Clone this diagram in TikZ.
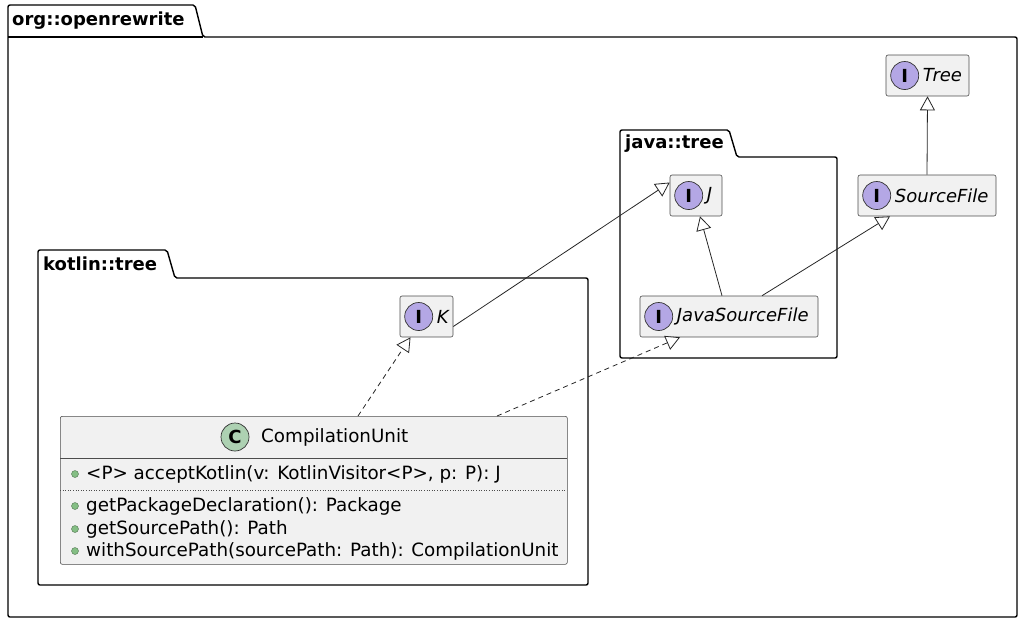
\documentclass[tikz,border=0pt]{standalone}
\usepackage{fontspec}
\setmainfont{DejaVu Sans}
\usetikzlibrary{arrows.meta}
\definecolor{cls}{HTML}{F1F1F1}
\definecolor{icol}{HTML}{B4A7E5}
\definecolor{ccol}{HTML}{ADD1B2}
\definecolor{bul}{HTML}{84BE84}
\begin{document}
\begin{tikzpicture}[x=1pt,y=-1pt,
  pkg/.style={draw=black,line width=1.4pt,rounded corners=2pt},
  box/.style={draw=black!70,fill=cls,rounded corners=2pt,line width=0.6pt},
  circ/.style={circle,draw=black!80,line width=0.7pt,minimum size=28pt,inner sep=0pt,font=\bfseries\fontsize{18}{18}\selectfont},
  lab/.style={font=\itshape\fontsize{18}{18}\selectfont,anchor=west,inner sep=0pt},
  txt/.style={font=\fontsize{18.3}{18}\selectfont,anchor=west,inner sep=0pt},
  ptab/.style={font=\bfseries\fontsize{18}{18}\selectfont,anchor=west,inner sep=0pt},
  inh/.style={draw=black!85,line width=0.8pt,-{Triangle[open,length=14pt,width=15pt,fill=white]}},
  real/.style={inh,dash pattern=on 5pt off 4pt}]
\useasboundingbox (0,0) rectangle (1024,625);
% packages
\draw[pkg] (8,37) -- (8,5) -- (195,5) -- (203,37) -- (1017,37) -- (1017,617) -- (8,617) -- cycle;
\draw[pkg] (8,37) -- (203,37);
\node[ptab] (p1) at (12,21) {org::openrewrite};
\draw[pkg] (620,157) -- (620,130) -- (729,130) -- (737,157) -- (837,157) -- (837,358) -- (620,358) -- cycle;
\node[ptab] (p2) at (625,144) {java::tree};
\draw[pkg] (38,278) -- (38,250) -- (167,250) -- (175,278) -- (588,278) -- (588,585) -- (38,585) -- cycle;
\node[ptab] (p3) at (43,264) {kotlin::tree};
% interfaces
\newcommand{\iface}[5]{%
 \node[box,minimum width=#4pt,minimum height=41pt,inner sep=0pt] (#1) at (#2,#3) {};
 \node[circ,fill=icol] (#1c) at ([xshift=19pt]#1.west) {I};
 \node[lab] (#1t) at ([xshift=37pt]#1.west) {#5};}
\iface{tree}{927.5}{75.5}{83}{Tree}
\iface{sf}{927}{195.5}{138}{SourceFile}
\iface{j}{696}{195.5}{52}{J}
\iface{jsf}{729}{316.5}{178}{JavaSourceFile}
\iface{k}{426.5}{316.5}{53}{K}
% class
\node[box,minimum width=507pt,minimum height=148pt,inner sep=0pt,anchor=north west] (cu) at (60,416) {};
\draw[black!70,line width=0.6pt] (60,458) -- (567,458);
\draw[black!70,line width=0.6pt,dotted] (60,490) -- (567,490);
\node[circ,fill=ccol] (cuc) at (235,437) {C};
\node[txt] (cut) at (261,437) {CompilationUnit};
\foreach \y/\t/\n in {474/{<P> acceptKotlin(v: KotlinVisitor<P>, p: P): J}/a,
  506/{getPackageDeclaration(): Package}/b,
  529/{getSourcePath(): Path}/c,
  551/{withSourcePath(sourcePath: Path): CompilationUnit}/d}{
  \fill[bul,draw=bul!60!black,line width=0.4pt] (75,\y) circle (3.5pt);
  \node[txt] (m\n) at (86,\y) {\t};}
% connectors
\draw[inh] (sf.north) -- (tree.south);
\draw[inh] ([xshift=-7pt]jsf.north) -- ([xshift=4pt]j.south);
\draw[inh] ([xshift=33pt]jsf.north) -- ([xshift=-37pt]sf.south);
\draw[inh] ([yshift=-10pt]k.east) -- ([yshift=13pt]j.west);
\draw[real] (358,416) -- ([xshift=-16pt]k.south);
\draw[real] (497,416) -- ([xshift=-49pt]jsf.south);
\end{tikzpicture}
\end{document}
